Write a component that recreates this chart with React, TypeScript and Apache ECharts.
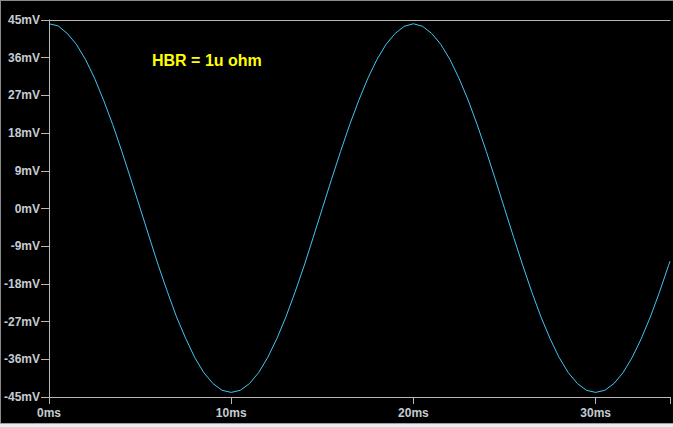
import React, { useEffect, useRef } from "react";
import * as echarts from "echarts";

// time in ms
const timeMs = [
  0, 0.5, 1, 1.5, 2, 2.5, 3, 3.5, 4, 4.5, 5, 5.5, 6, 6.5, 7, 7.5, 8, 8.5, 9, 9.5, 10,
  10.5, 11, 11.5, 12, 12.5, 13, 13.5, 14, 14.5, 15, 15.5, 16, 16.5, 17, 17.5, 18, 18.5, 19, 19.5, 20,
  20.5, 21, 21.5, 22, 22.5, 23, 23.5, 24, 24.5, 25, 25.5, 26, 26.5, 27, 27.5, 28, 28.5, 29, 29.5, 30,
  30.5, 31, 31.5, 32, 32.5, 33, 33.5, 34, 34.08,
];
// voltage in mV
const voltageMv = [
  44.1, 43.6, 41.8, 39.2, 35.6, 31.1, 25.8, 20.0, 13.6, 6.9, 0.1, -6.8, -13.6, -19.9, -25.9, -31.0, -35.6, -39.2, -41.8, -43.4, -43.9,
  -43.4, -41.8, -39.2, -35.6, -31.1, -25.9, -20.0, -13.7, -6.9, 0.0, 6.9, 13.6, 20.0, 25.8, 31.1, 35.6, 39.2, 41.8, 43.5, 44.1,
  43.5, 41.8, 39.2, 35.6, 31.1, 25.9, 20.0, 13.6, 6.9, 0.0, -6.9, -13.6, -20.0, -25.9, -31.1, -35.6, -39.2, -41.8, -43.4, -43.9,
  -43.4, -41.8, -39.2, -35.6, -31.1, -25.9, -20.0, -13.6, -12.6,
];
const xTicks = [0, 10, 20, 30];
const annotation = "HBR = 1u ohm";

export default function App() {
  const ref = useRef<HTMLDivElement>(null);
  useEffect(() => {
    document.body.style.margin = "0";
    const chart = echarts.init(ref.current!, null, { renderer: "svg" });
    const labelFont = {
      color: "#c4ccd4",
      fontFamily: "Liberation Sans",
      fontWeight: "bold" as const,
      fontSize: 12,
    };
    chart.setOption({
      animation: false,
      backgroundColor: "#000000",
      grid: { left: 49, top: 20, right: 0, bottom: 30 },
      xAxis: [
        {
          type: "value",
          min: 0,
          max: 34.08,
          interval: 10,
          position: "bottom",
          axisLine: { show: true, onZero: false, lineStyle: { color: "#b8b8b8", width: 1 } },
          axisTick: { show: true, length: 7, lineStyle: { color: "#b8b8b8" } },
          splitLine: { show: false },
          showMaxLabel: false,
          axisLabel: {
            ...labelFont,
            margin: 10,
            formatter: (v: number) => (xTicks.includes(v) ? `${v}ms` : ""),
          },
        },
        {
          type: "value",
          min: 0,
          max: 34.08,
          position: "top",
          axisLine: { show: true, onZero: false, lineStyle: { color: "#b8b8b8", width: 1 } },
          axisTick: { show: false },
          axisLabel: { show: false },
          splitLine: { show: false },
        },
      ],
      yAxis: {
        type: "value",
        min: -45,
        max: 45,
        interval: 9,
        axisLine: { show: true, onZero: false, lineStyle: { color: "#b8b8b8", width: 1 } },
        axisTick: { show: true, length: 8, lineStyle: { color: "#b8b8b8" } },
        splitLine: { show: false },
        axisLabel: {
          ...labelFont,
          margin: 9,
          formatter: (v: number) => `${v}mV`,
        },
      },
      graphic: [
        { type: "rect", left: 0, top: 0, shape: { width: 673, height: 1 }, style: { fill: "#8a8a8a" } },
        { type: "rect", left: 0, top: 0, shape: { width: 1, height: 427 }, style: { fill: "#8a8a8a" } },
        { type: "rect", left: 0, top: 423, shape: { width: 673, height: 1 }, style: { fill: "#a0a0a0" } },
        { type: "rect", left: 0, top: 424, shape: { width: 673, height: 3 }, style: { fill: "#e4ecf4" } },
        {
          type: "text",
          x: 152,
          y: 60,
          style: {
            text: annotation,
            fill: "#ffff00",
            font: "bold 16px 'Liberation Sans'",
            textVerticalAlign: "middle",
            verticalAlign: "middle",
          },
        },
      ],
      series: [
        {
          type: "line",
          xAxisIndex: 0,
          data: timeMs.map((t, i) => [t, voltageMv[i]]),
          showSymbol: false,
          symbol: "none",
          lineStyle: { color: "#44c4f4", width: 1 },
          itemStyle: { color: "#44c4f4" },
        },
      ],
    });
    return () => chart.dispose();
  }, []);
  return <div ref={ref} style={{ width: 673, height: 427 }} />;
}
